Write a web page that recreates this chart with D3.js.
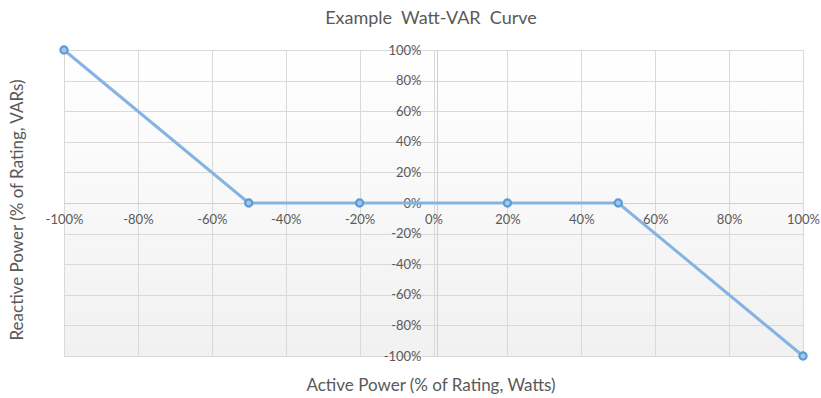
<!DOCTYPE html>
<html>
<head>
<meta charset="utf-8">
<script src="https://cdn.jsdelivr.net/npm/d3@7"></script>
<style>
  html, body { margin: 0; padding: 0; background: #fff; }
  svg { display: block; font-family: Lato, "Open Sans", sans-serif; }
</style>
</head>
<body>
<svg id="chart" width="821" height="398"></svg>
<script>
// Watt-VAR curve points (active power %, reactive power %)
const activePower = [-100, -50, -20, 20, 50, 100];
const reactivePower = [100, 0, 0, 0, 0, -100];
const xTicks = [-100, -80, -60, -40, -20, 0, 20, 40, 60, 80, 100];
const yTicks = [100, 80, 60, 40, 20, 0, -20, -40, -60, -80, -100];

const titleText = "Example  Watt-VAR  Curve";
const xTitle = "Active Power (% of Rating, Watts)";
const yTitle = "Reactive Power (% of Rating, VARs)";

const svg = d3.select("#chart");
const x = d3.scaleLinear().domain([-100, 100]).range([64, 803]);
const y = d3.scaleLinear().domain([-100, 100]).range([356, 50]);

const defs = svg.append("defs");
const grad = defs.append("linearGradient").attr("id", "plotBg")
  .attr("x1", 0).attr("y1", 0).attr("x2", 0).attr("y2", 1);
grad.append("stop").attr("offset", "0%").attr("stop-color", "#ffffff");
grad.append("stop").attr("offset", "100%").attr("stop-color", "#f1f1f1");

svg.append("rect")
  .attr("x", x(-100)).attr("y", y(100))
  .attr("width", x(100) - x(-100)).attr("height", y(-100) - y(100))
  .attr("fill", "url(#plotBg)");

// gridlines
const grid = svg.append("g").attr("stroke", "#d9d9d9").attr("stroke-width", 1);
grid.selectAll("line.h").data(yTicks).join("line")
  .attr("x1", x(-100)).attr("x2", x(100))
  .attr("y1", d => Math.round(y(d)) + 0.5).attr("y2", d => Math.round(y(d)) + 0.5);
grid.selectAll("line.v").data(xTicks).join("line")
  .attr("y1", y(100)).attr("y2", y(-100))
  .attr("x1", d => Math.round(x(d)) + 0.5).attr("x2", d => Math.round(x(d)) + 0.5);

// axis lines through the origin
svg.append("line")
  .attr("x1", x(-100)).attr("x2", x(100))
  .attr("y1", Math.round(y(0)) + 0.5).attr("y2", Math.round(y(0)) + 0.5)
  .attr("stroke", "#d0d0d0");
svg.append("line")
  .attr("x1", Math.round(x(0)) + 3.5).attr("x2", Math.round(x(0)) + 3.5)
  .attr("y1", y(100)).attr("y2", y(-100))
  .attr("stroke", "#d0d0d0");

// x tick labels (below the horizontal axis)
const xAxis = d3.axisBottom(x).tickValues(xTicks).tickSize(0).tickPadding(12)
  .tickFormat(d => d + "%");
const gx = svg.append("g").attr("transform", `translate(0,${y(0)})`).call(xAxis);
gx.select(".domain").remove();
gx.selectAll("text").attr("fill", "#595959").attr("font-size", 13)
  .attr("font-family", "Lato, 'Open Sans', sans-serif");

// y tick labels (left of the vertical axis)
const yAxis = d3.axisLeft(y).tickValues(yTicks).tickSize(0).tickPadding(12)
  .tickFormat(d => d + "%");
const gy = svg.append("g").attr("transform", `translate(${x(0)},0)`).call(yAxis);
gy.select(".domain").remove();
gy.selectAll("text").attr("fill", "#595959").attr("font-size", 13)
  .attr("font-family", "Lato, 'Open Sans', sans-serif");

// curve
const pts = activePower.map((a, i) => [a, reactivePower[i]]);
svg.append("path")
  .datum(pts)
  .attr("fill", "none")
  .attr("stroke", "#85b4e2")
  .attr("stroke-width", 3)
  .attr("d", d3.line().x(d => x(d[0])).y(d => y(d[1])));

svg.selectAll("circle.pt").data(pts).join("circle")
  .attr("class", "pt")
  .attr("cx", d => x(d[0])).attr("cy", d => y(d[1]))
  .attr("r", 3.6)
  .attr("fill", "#a3c6ea")
  .attr("stroke", "#5b9bd5")
  .attr("stroke-width", 2.2);

// titles
svg.append("text").attr("x", 431).attr("y", 24)
  .attr("text-anchor", "middle").attr("fill", "#595959").attr("font-size", 18)
  .attr("xml:space", "preserve").style("white-space", "pre")
  .text(titleText);
svg.append("text").attr("x", 431).attr("y", 391)
  .attr("text-anchor", "middle").attr("fill", "#595959").attr("font-size", 17)
  .text(xTitle);
svg.append("text")
  .attr("transform", `translate(23,${y(0) + 7}) rotate(-90)`)
  .attr("text-anchor", "middle").attr("fill", "#595959").attr("font-size", 17)
  .text(yTitle);
</script>
</body>
</html>
